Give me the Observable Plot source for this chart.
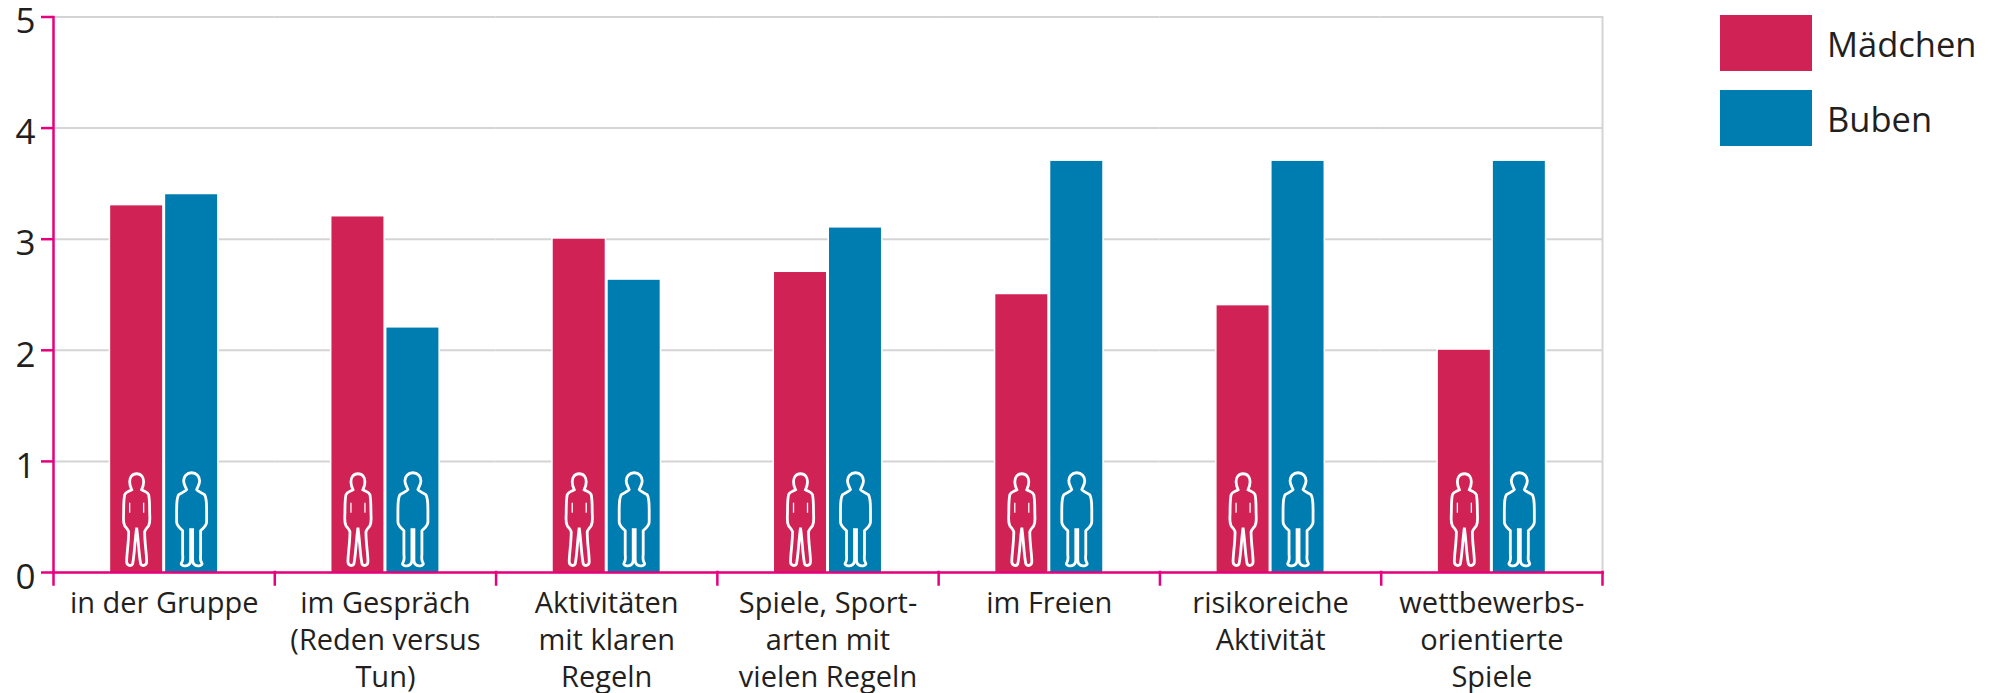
<!DOCTYPE html>
<html lang="de">
<head>
<meta charset="utf-8">
<script src="https://cdn.jsdelivr.net/npm/d3@7"></script>
<script src="https://cdn.jsdelivr.net/npm/@observablehq/plot@0.6"></script>
<style>
  html, body { margin: 0; padding: 0; background: #fff; }
  #wrap { position: relative; width: 2000px; height: 693px; overflow: hidden; font-family: "Open Sans", sans-serif; color: #231f20; }
  #legend { position: absolute; left: 1720px; top: 15px; }
  .row { display: flex; align-items: center; height: 56px; margin-bottom: 19px; font-size: 34.5px; }
  .sw { width: 92px; height: 56px; margin-right: 15px; }
  svg { overflow: visible; }
</style>
</head>
<body>
<div id="wrap"><div id="legend"></div></div>
<script>
const categories = [
  "in der Gruppe",
  "im Gespräch\n(Reden versus\nTun)",
  "Aktivitäten\nmit klaren\nRegeln",
  "Spiele, Sport-\narten mit\nvielen Regeln",
  "im Freien",
  "risikoreiche\nAktivität",
  "wettbewerbs-\norientierte\nSpiele"
];
const series = ["Mädchen", "Buben"];
const colors = ["#d02255", "#007db0"];
const maedchen = [3.3, 3.2, 3.0, 2.7, 2.5, 2.4, 2.0];
const buben = [3.4, 2.2, 2.63, 3.1, 3.7, 3.7, 3.7];
const yTicks = [0, 1, 2, 3, 4, 5];
const figureLevel = 0.475;

const pink = "#e6007e", grid = "#d4d4d4", ink = "#231f20";

const rows = categories.flatMap((category, i) => [
  {category, series: series[0], value: maedchen[i]},
  {category, series: series[1], value: buben[i]}
]);

// Silhouette glyphs, used as custom symbols of the dot mark
function drawPath(ctx, d) {
  const tokens = d.match(/[MLCZ]|-?[\d.]+/g);
  let i = 0;
  const n = () => +tokens[i++];
  while (i < tokens.length) {
    const cmd = tokens[i++];
    if (cmd === "M") ctx.moveTo(n(), n());
    else if (cmd === "L") ctx.lineTo(n(), n());
    else if (cmd === "C") ctx.bezierCurveTo(n(), n(), n(), n(), n(), n());
    else if (cmd === "Z") ctx.closePath();
  }
}
const girlPath = "M0,-46 C-5,-46 -7,-42 -7,-38 C-7,-34 -6,-32 -5,-30 C-8,-28 -11,-28 -12,-25 C-13,-20 -13,-14 -13,-8 C-13,-2 -14,2 -12,6 C-10,9 -9,9 -8,12 C-8,24 -10,34 -10,42 C-10,46 -5,47 -4,44 C-2,34 -2,22 0,8 C2,22 2,34 4,44 C5,47 10,46 10,42 C10,34 8,24 8,12 C9,9 10,9 12,6 C14,2 13,-2 13,-8 C13,-14 13,-20 12,-25 C11,-28 8,-28 5,-30 C6,-32 7,-34 7,-38 C7,-42 5,-46 0,-46 Z";
const girlArms = "M-7,-17 L-7,-7 M7,-17 L7,-7";
const boyPath = "M0,-47 C-5,-47 -8,-43 -8,-39 C-8,-35 -6,-33 -5,-30 C-6,-28 -11,-27 -13,-25 C-15,-22 -15,-16 -15,-10 L-15,2 C-15,6 -12,8 -9,11 L-9,34 C-9,38 -8,40 -10,43 C-12,46 -6,47 -3,45 C-1,44 -1,42 -1,40 L-1,10 L1,10 L1,40 C1,42 1,44 3,45 C6,47 12,46 10,43 C8,40 9,38 9,34 L9,11 C12,8 15,6 15,2 L15,-10 C15,-16 15,-22 13,-25 C11,-27 6,-28 5,-30 C6,-33 8,-35 8,-39 C8,-43 5,-47 0,-47 Z";
const girlSymbol = {draw: (ctx) => drawPath(ctx, girlPath)};
const armsSymbol = {draw: (ctx) => drawPath(ctx, girlArms)};
const boySymbol = {draw: (ctx) => drawPath(ctx, boyPath)};

const girls = rows.filter(d => d.series === series[0]);
const boys = rows.filter(d => d.series === series[1]);

const chart = Plot.plot({
  width: 2000,
  height: 693,
  marginLeft: 53,
  marginRight: 398,
  marginTop: 16.5,
  marginBottom: 121,
  style: {background: "transparent", fontFamily: '"Open Sans", sans-serif', color: ink},
  fx: {domain: categories, padding: 0, round: false, label: null},
  x: {domain: series, paddingInner: 0.055, paddingOuter: 1.04, round: false, axis: null, label: null},
  y: {domain: [0, 5], label: null, axis: null},
  color: {domain: series, range: colors},
  marks: [
    Plot.ruleY(yTicks, {stroke: grid, strokeWidth: 2}),
    Plot.frame({facet: "super", anchor: "right", stroke: grid, strokeWidth: 2}),
    Plot.barY(rows, {fx: "category", x: "series", y: "value", fill: "white", insetLeft: -1.5, insetRight: -1.5, insetTop: -1}),
    Plot.barY(rows, {fx: "category", x: "series", y: "value", fill: "series"}),
    Plot.dot(girls, {fx: "category", x: "series", y: () => figureLevel, symbol: girlSymbol, stroke: "white", strokeWidth: 2.8, fill: "none"}),
    Plot.dot(girls, {fx: "category", x: "series", y: () => figureLevel, symbol: armsSymbol, stroke: "white", strokeWidth: 1.3, fill: "none"}),
    Plot.dot(boys, {fx: "category", x: "series", y: () => figureLevel, symbol: boySymbol, stroke: "white", strokeWidth: 2.8, fill: "none"}),
    Plot.axisY(yTicks, {anchor: "left", tickSize: 12, stroke: pink, strokeWidth: 2.5, fill: "none"}),
    Plot.axisY(yTicks, {anchor: "left", tickSize: 12, tickPadding: 6, stroke: "none", fill: ink, fontSize: 35, dy: 5, tickFormat: d => d}),
    Plot.frame({facet: "super", anchor: "left", stroke: pink, strokeWidth: 2.5}),
    Plot.frame({facet: "super", anchor: "bottom", stroke: pink, strokeWidth: 2.5}),
    Plot.frame({anchor: "left", stroke: pink, strokeWidth: 2.5, insetTop: 555, insetBottom: -12}),
    Plot.frame({facet: "super", anchor: "right", stroke: pink, strokeWidth: 2.5, insetTop: 555, insetBottom: -12}),
    Plot.axisFx({anchor: "bottom", tickSize: 0, tickPadding: 15, fontSize: 29, lineHeight: 1.26, fill: ink, label: null})
  ]
});
document.getElementById("wrap").prepend(chart);

d3.select("#legend").selectAll(".row").data(series).join("div").attr("class", "row")
  .html((d, i) => `<div class="sw" style="background:${colors[i]}"></div><span>${d}</span>`);
</script>
</body>
</html>
